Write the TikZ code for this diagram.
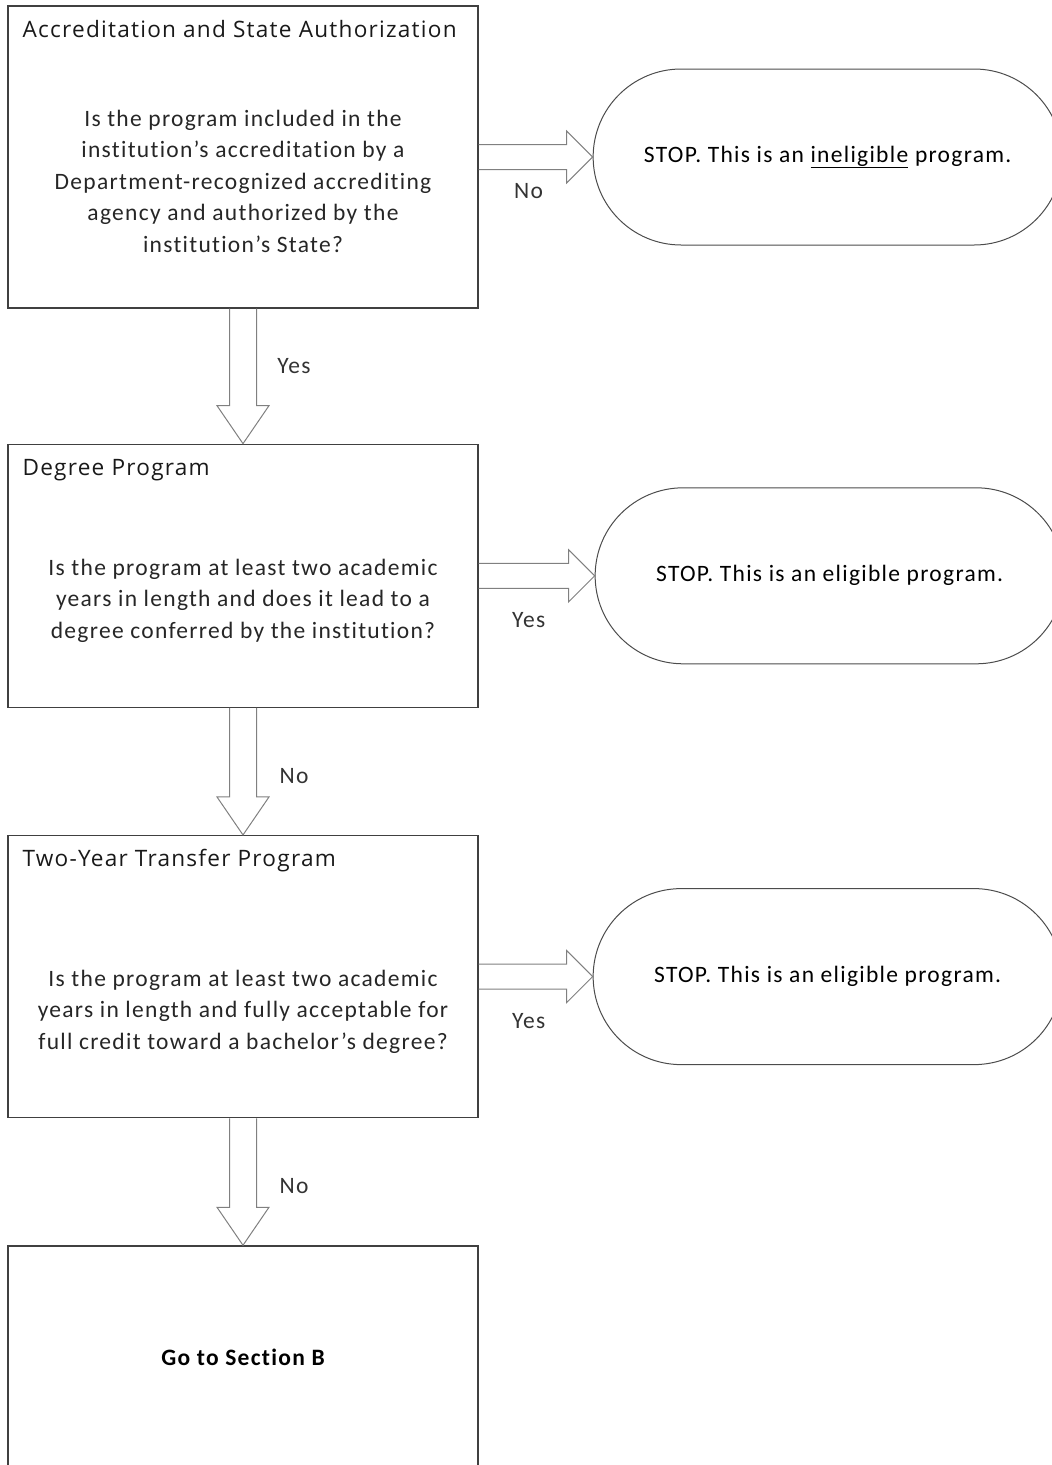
\documentclass[tikz,border=0pt]{standalone}
\usepackage{fontspec}
\setmainfont{Carlito}[LetterSpace=5.5,Ligatures=NoCommon]
\newfontfamily\headfont{Open Sans}[LetterSpace=5.5]
\usetikzlibrary{positioning,calc}

\begin{document}
\begin{tikzpicture}[x=1pt,y=-1pt,>=latex,
  font=\fontsize{23.5}{31.5}\selectfont,
  qbox/.style={draw=black!75,line width=1.3pt,minimum width=470pt,inner sep=0pt},
  qhead/.style={anchor=base west,inner sep=0pt,text=black!90,font=\headfont\fontsize{22.6}{26}\selectfont},
  qbody/.style={align=center,inner sep=0pt,text=black!85},
  stopbox/.style={draw=black!70,line width=1pt,rounded corners=88pt,minimum width=469pt,minimum height=176pt,inner sep=0pt},
  arr/.style={draw=black!50,line width=1pt},
  lbl/.style={inner sep=0pt,text=black!80}]
\useasboundingbox (0,0) rectangle (1052,1465);
\clip (0,0) rectangle (1052,1465);

% Accreditation and State Authorization
\node[qbox,minimum height=302pt] (acc) at (243,157) {};
\node[qhead] (acchead) at ($(acc.north west)+(15,32)$) {Accreditation and State Authorization};
\node[qbody] (accq) at ($(acc.center)+(0,24)$) {Is the program included in the\\institution’s accreditation by a\\Department-recognized accrediting\\agency and authorized by the\\institution’s State?};
\node[stopbox,right=114pt of acc] (stop1) {STOP. This is an \underline{ineligible} program.};
\draw[arr] ($(acc.east)+(0,-12.5)$) -- ($(stop1.west)+(-26,-12.5)$) -- ($(stop1.west)+(-26,-26)$) -- (stop1.west)
  -- ($(stop1.west)+(-26,26)$) -- ($(stop1.west)+(-26,12.5)$) -- ($(acc.east)+(0,12.5)$);
\node[lbl] (no1) at ($(acc.east)+(50,34)$) {No};

% Degree Program
\node[qbox,minimum height=263pt,below=135pt of acc] (deg) {};
\node[qhead] (deghead) at ($(deg.north west)+(15,32)$) {Degree Program};
\node[qbody] (degq) at ($(deg.center)+(0,25)$) {Is the program at least two academic\\years in length and does it lead to a\\degree conferred by the institution?};
\draw[arr] ($(acc.south)+(-13.5,0)$) -- ($(deg.north)+(-13.5,-38)$) -- ($(deg.north)+(-26,-38)$) -- (deg.north)
  -- ($(deg.north)+(26,-38)$) -- ($(deg.north)+(13.5,-38)$) -- ($(acc.south)+(13.5,0)$);
\node[lbl] (yes1) at ($(acc.south)+(51,57)$) {Yes};
\node[stopbox,right=116pt of deg] (stop2) {STOP. This is an eligible program.};
\draw[arr] ($(deg.east)+(0,-12.5)$) -- ($(stop2.west)+(-26,-12.5)$) -- ($(stop2.west)+(-26,-26)$) -- (stop2.west)
  -- ($(stop2.west)+(-26,26)$) -- ($(stop2.west)+(-26,12.5)$) -- ($(deg.east)+(0,12.5)$);
\node[lbl] (yes2) at ($(deg.east)+(50,44.5)$) {Yes};

% Two-Year Transfer Program
\node[qbox,minimum height=282pt,below=127pt of deg] (trf) {};
\node[qhead] (trfhead) at ($(trf.north west)+(15,32)$) {Two-Year Transfer Program};
\node[qbody] (trfq) at ($(trf.center)+(0,35)$) {Is the program at least two academic\\years in length and fully acceptable for\\full credit toward a bachelor’s degree?};
\draw[arr] ($(deg.south)+(-13.5,0)$) -- ($(trf.north)+(-13.5,-38)$) -- ($(trf.north)+(-26,-38)$) -- (trf.north)
  -- ($(trf.north)+(26,-38)$) -- ($(trf.north)+(13.5,-38)$) -- ($(deg.south)+(13.5,0)$);
\node[lbl] (no2) at ($(deg.south)+(51,68)$) {No};
\node[stopbox,right=114pt of trf] (stop3) {STOP. This is an eligible program.};
\draw[arr] ($(trf.east)+(0,-12.5)$) -- ($(stop3.west)+(-26,-12.5)$) -- ($(stop3.west)+(-26,-26)$) -- (stop3.west)
  -- ($(stop3.west)+(-26,26)$) -- ($(stop3.west)+(-26,12.5)$) -- ($(trf.east)+(0,12.5)$);
\node[lbl] (yes3) at ($(trf.east)+(50,44)$) {Yes};

% Section B
\node[qbox,minimum height=222pt,below=127pt of trf,font=\bfseries\fontsize{23.5}{31.5}\selectfont] (secb) {Go to Section B};
\draw[arr] ($(trf.south)+(-13.5,0)$) -- ($(secb.north)+(-13.5,-38)$) -- ($(secb.north)+(-26,-38)$) -- (secb.north)
  -- ($(secb.north)+(26,-38)$) -- ($(secb.north)+(13.5,-38)$) -- ($(trf.south)+(13.5,0)$);
\node[lbl] (no3) at ($(trf.south)+(51,68)$) {No};

\end{tikzpicture}
\end{document}
